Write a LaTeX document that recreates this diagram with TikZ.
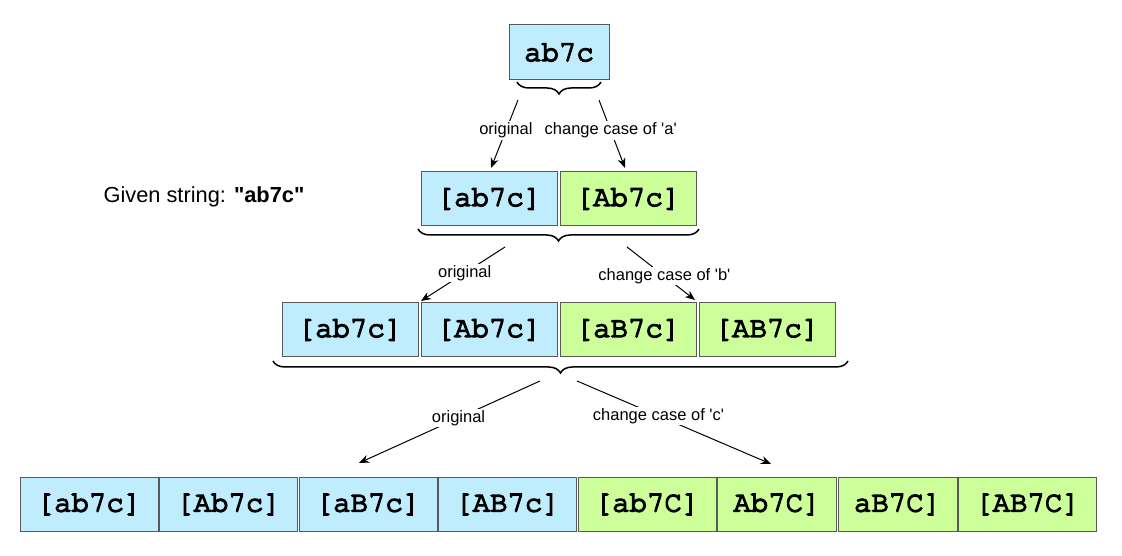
\documentclass[tikz,border=0pt]{standalone}
\usepackage{fontspec}
\setmainfont{Liberation Sans}
\setmonofont{Liberation Mono}
\newfontfamily\cellfont{TeX Gyre Cursor}[FakeBold=5]
\usetikzlibrary{arrows.meta,positioning}
\usetikzlibrary{decorations.pathreplacing}
\definecolor{boxblue}{RGB}{192,237,254}
\definecolor{boxgreen}{RGB}{204,255,153}
\tikzset{
  cell/.style={draw=black!65,line width=1pt,inner sep=0pt,outer sep=0pt,minimum height=54pt,
               font=\fontsize{29}{30}\selectfont\cellfont},
  wide/.style={minimum width=136pt},
  wider/.style={minimum width=138pt},
  narrow/.style={minimum width=119pt},
  keep/.style={cell,fill=boxblue},
  flip/.style={cell,fill=boxgreen},
  grp/.style={decorate,decoration={brace,mirror,amplitude=12pt},line width=1.5pt},
  lbl/.style={fill=white,inner sep=1.5pt,font=\fontsize{16.5}{18}\selectfont}
}
\begin{document}
\begin{tikzpicture}[x=1pt,y=1pt,>={Stealth[length=10pt,width=8pt]}]
  \useasboundingbox (0,0) rectangle (1122,556);

  % start string
  \node[keep,minimum width=100pt,minimum height=55pt] (0) at (559,503.5) {ab7c};
  \node[font=\fontsize{21.8}{24}\selectfont] (given) at (204,359)
       {Given string: \textbf{\textquotedbl ab7c\textquotedbl}};

  % after 'a'
  \node[keep,wide]  (10) at (489,357) {[ab7c]};
  \node[flip,wide]  (11) [right=3pt of 10] {[Ab7c]};

  % after 'b'
  \node[keep,wide]  (20) at (350,226) {[ab7c]};
  \node[keep,wide]  (21) [right=3pt of 20] {[Ab7c]};
  \node[flip,wide]  (22) [right=3pt of 21] {[aB7c]};
  \node[flip,wide]  (23) [right=3pt of 22] {[AB7c]};

  % after 'c'
  \node[keep,wider]  (30) at (89,51.5) {[ab7c]};
  \node[keep,wider]  (31) [right=1.5pt of 30] {[Ab7c]};
  \node[keep,wider]  (32) [right=1.5pt of 31] {[aB7c]};
  \node[keep,wider]  (33) [right=1.5pt of 32] {[AB7c]};
  \node[flip,wider]  (34) [right=1.5pt of 33] {[ab7C]};
  \node[flip,narrow] (35) [right=1.5pt of 34] {Ab7C]};
  \node[flip,narrow] (36) [right=1.5pt of 35] {aB7C]};
  \node[flip,wider]  (37) [right=1.5pt of 36] {[AB7C]};

  % braces
  \draw[grp] (517,474) -- (601,474);
  \draw[grp] (418,327) -- (699,327);
  \draw[grp] (273,195) -- (848,195);

  \coordinate (a0) at (518,456);  \coordinate (a1) at (599,456);
  \coordinate (b0) at (505,309);  \coordinate (b1) at (627,309);
  \coordinate (c0) at (540,175);  \coordinate (c1) at (577,175);
  \coordinate (ta0) at (491,388); \coordinate (ta1) at (625,388);
  \coordinate (tb0) at (421,255); \coordinate (tb1) at (695,256);
  \coordinate (tc0) at (359,93);  \coordinate (tc1) at (771,92);

\path[->,line width=1pt]
     (a0)	edge 	node[lbl,pos=0.45]	{original} (ta0)
     (a1)	edge 	node[lbl,pos=0.45]	{change case of \textquotesingle a\textquotesingle} (ta1)
     (b0)	edge 	node[lbl,pos=0.48]	{original} (tb0)
     (b1)	edge 	node[lbl,pos=0.55]	{change case of \textquotesingle b\textquotesingle} (tb1)
     (c0)	edge 	node[lbl,pos=0.45]	{original} (tc0)
     (c1)	edge 	node[lbl,pos=0.42]	{change case of \textquotesingle c\textquotesingle} (tc1)
  ;
\end{tikzpicture}
\end{document}
